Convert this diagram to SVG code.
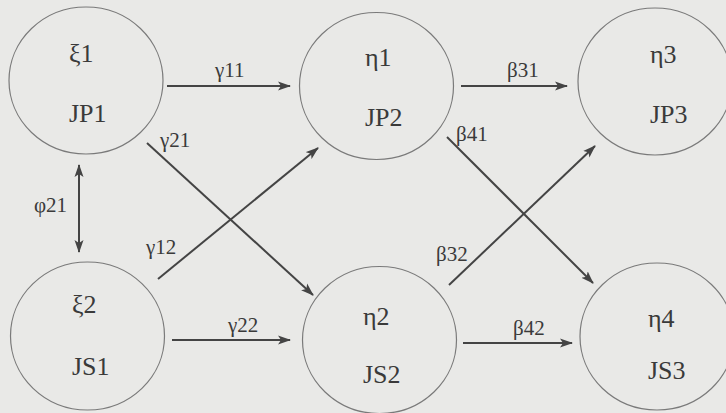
<svg xmlns="http://www.w3.org/2000/svg" width="726" height="413" viewBox="0 0 726 413">
<style>
.node ellipse{fill:none;stroke:#7a7a7a;stroke-width:1.2}
.edge{stroke:#444;stroke-width:2;fill:none;marker-end:url(#ah)}
text.n{font-family:'Liberation Serif','Times New Roman',serif;font-size:26px;fill:#3a3a3a}
text.l{font-family:'Liberation Serif','Times New Roman',serif;font-size:21px;fill:#3a3a3a}
</style>
<defs>
<marker id="ah" markerUnits="userSpaceOnUse" markerWidth="14" markerHeight="10" refX="12" refY="5" orient="auto-start-reverse" viewBox="0 0 14 10">
<path d="M0,0.5 L13,5 L0,9.5 L3,5 Z" fill="#444"/>
</marker>
</defs>
<rect width="726" height="413" fill="#e9e9e7"/>
<g id="xi1" class="node"><ellipse cx="86" cy="80.5" rx="77" ry="73.5"/><text class="n" x="69" y="62">ξ1</text><text class="n" x="69" y="122">JP1</text></g>
<g id="eta1" class="node"><ellipse cx="376.5" cy="86" rx="77" ry="73.5"/><text class="n" x="365" y="66">η1</text><text class="n" x="365" y="126">JP2</text></g>
<g id="eta3" class="node"><ellipse cx="655" cy="81.5" rx="77" ry="73.5"/><text class="n" x="650" y="63">η3</text><text class="n" x="650" y="123">JP3</text></g>
<g id="xi2" class="node"><ellipse cx="87.5" cy="336" rx="77" ry="74"/><text class="n" x="72" y="313">ξ2</text><text class="n" x="72" y="375">JS1</text></g>
<g id="eta2" class="node"><ellipse cx="379.5" cy="340" rx="77" ry="73.5"/><text class="n" x="363" y="325">η2</text><text class="n" x="363" y="383">JS2</text></g>
<g id="eta4" class="node"><ellipse cx="657" cy="336.5" rx="77" ry="73.5"/><text class="n" x="648" y="327">η4</text><text class="n" x="648" y="379">JS3</text></g>
<g id="connectors">
<line class="edge" x1="167" y1="86" x2="290" y2="86"/>
<line class="edge" x1="461" y1="86" x2="567" y2="86"/>
<line class="edge" x1="147" y1="143" x2="313" y2="295"/>
<line class="edge" x1="158" y1="279" x2="318" y2="148"/>
<line class="edge" x1="447" y1="137" x2="593" y2="283"/>
<line class="edge" x1="449" y1="285" x2="595" y2="146"/>
<line class="edge" x1="172" y1="340" x2="290" y2="340"/>
<line class="edge" x1="463" y1="343" x2="572" y2="343"/>
<line class="edge" x1="79" y1="165" x2="79" y2="252" style="marker-start:url(#ah)"/>
<text class="l" x="215" y="77">γ11</text>
<text class="l" x="507" y="77">β31</text>
<text class="l" x="160" y="147">γ21</text>
<text class="l" x="146" y="254">γ12</text>
<text class="l" x="456" y="141">β41</text>
<text class="l" x="436" y="261">β32</text>
<text class="l" x="228" y="332">γ22</text>
<text class="l" x="513" y="335">β42</text>
<text class="l" x="34" y="212">φ21</text>
</g>
</svg>
